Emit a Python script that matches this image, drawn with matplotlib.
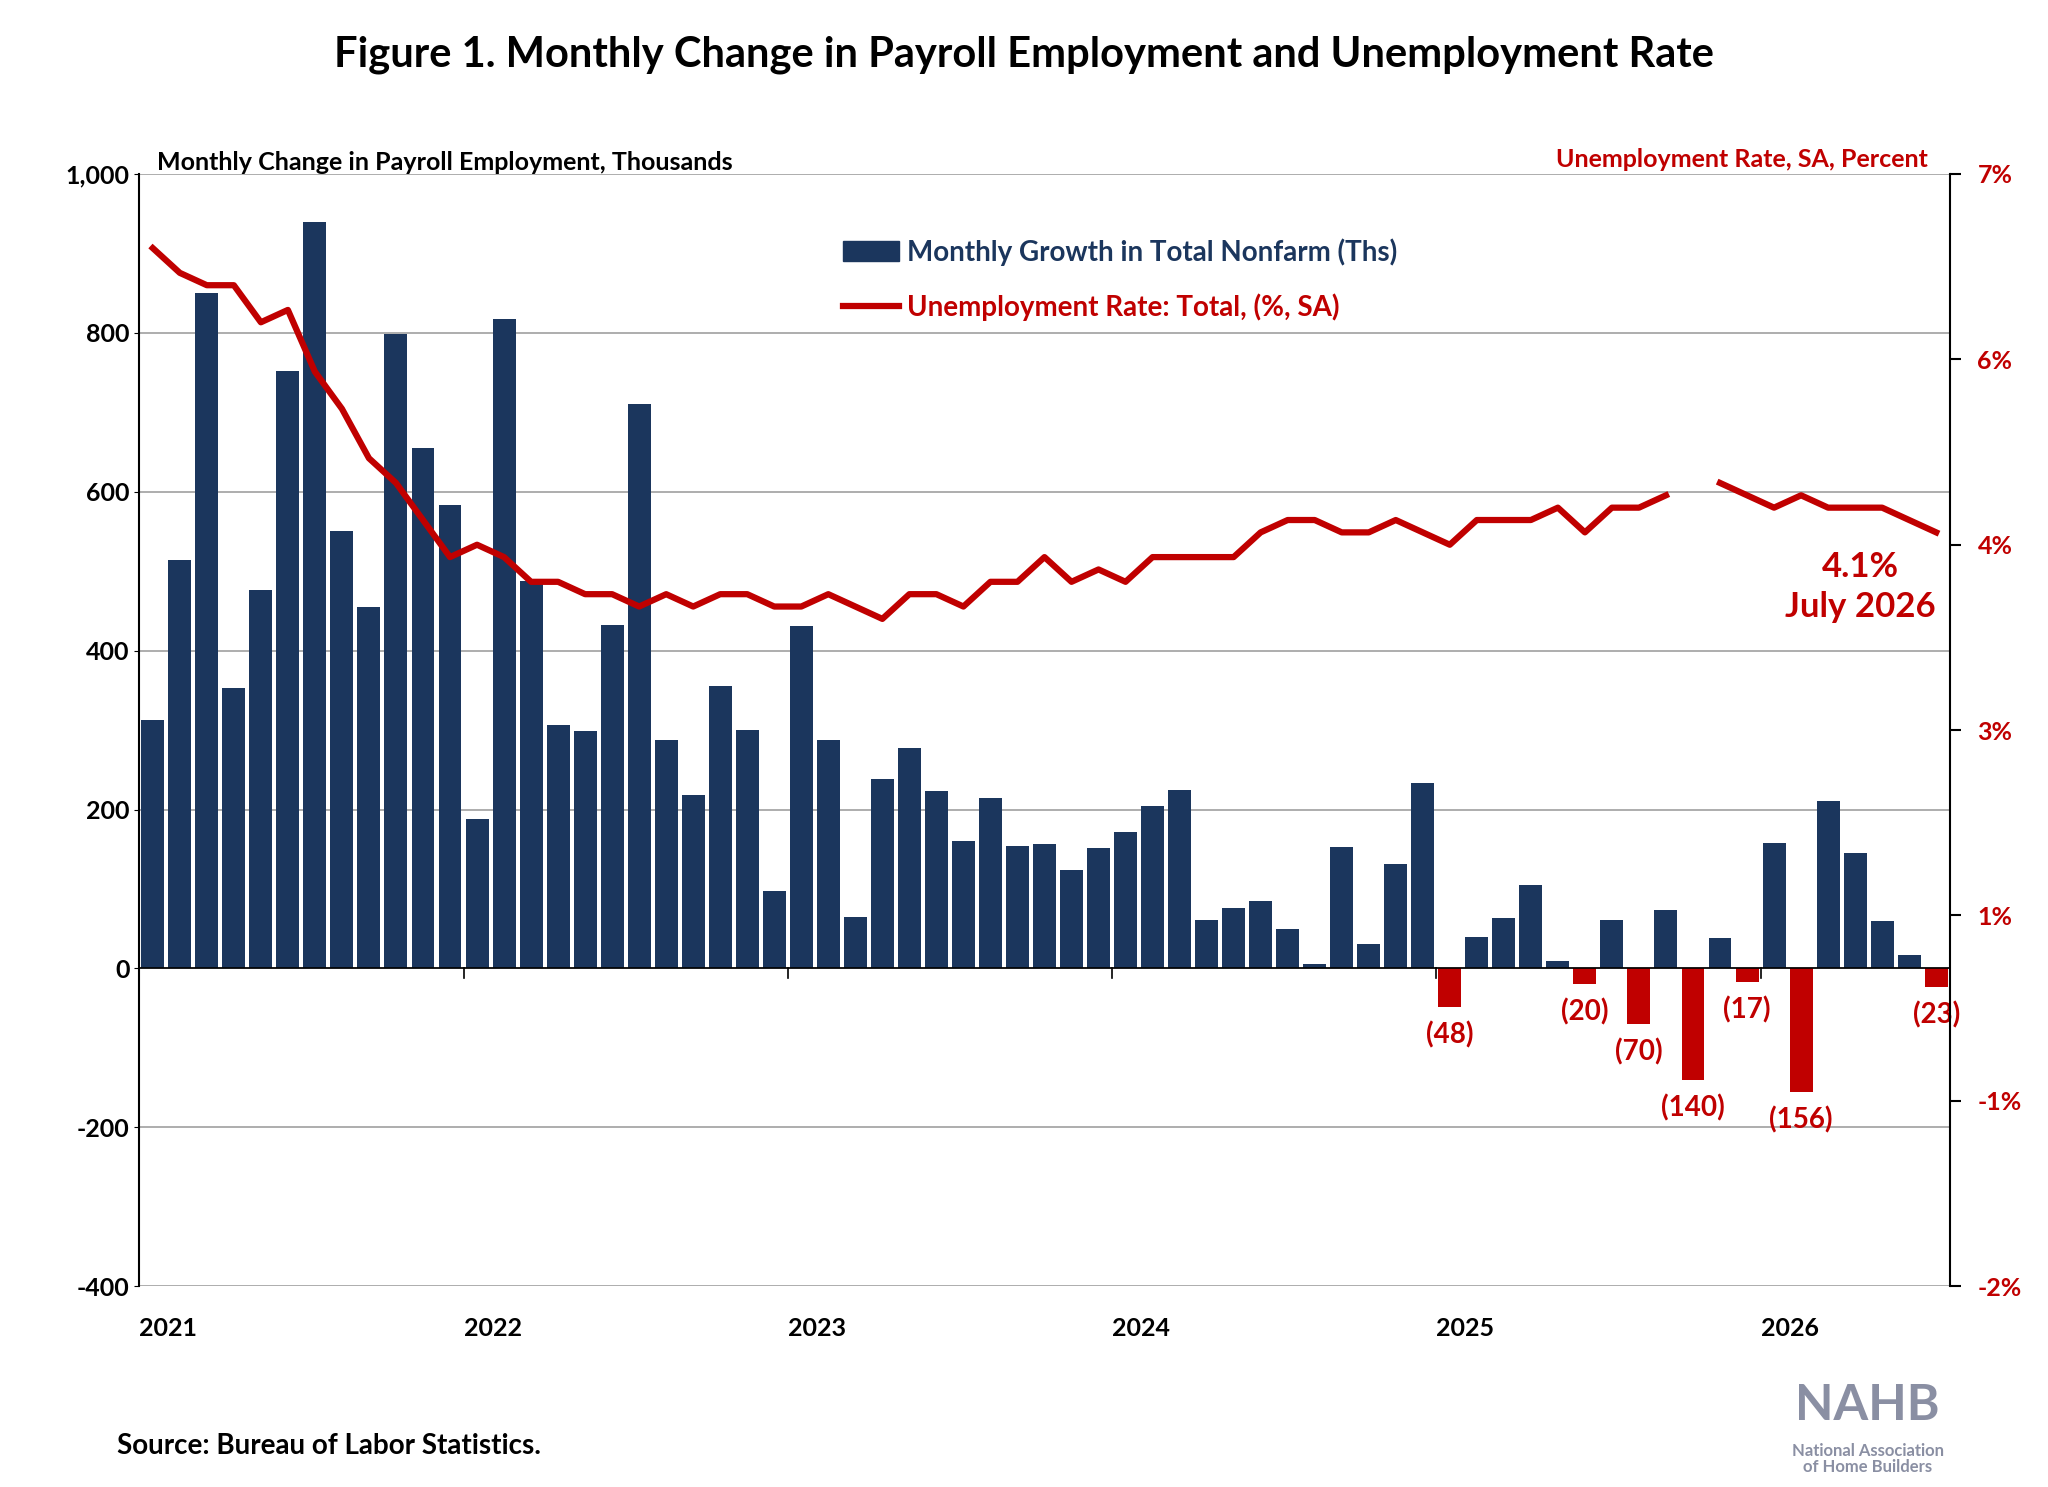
import numpy as np
import matplotlib.pyplot as plt
from matplotlib.patches import Patch
from matplotlib.lines import Line2D

plt.rcParams['font.family'] = ['Lato', 'DejaVu Sans']
plt.rcParams['font.weight'] = 'bold'

# Jan 2021 .. Jul 2026
payroll = [313, 514, 850, 353, 476, 752, 940, 550, 455, 799, 655, 583,
           188, 817, 488, 306, 299, 432, 711, 288, 218, 355, 300, 98,
           431, 288, 65, 239, 278, 223, 161, 215, 154, 157, 124, 152,
           172, 204, 225, 61, 76, 85, 50, 6, 153, 31, 131, 234,
           -48, 40, 64, 105, 10, -20, 61, -70, 74, -140, 38, -17,
           158, -156, 211, 145, 60, 17, -23]
unemp = [6.4, 6.2, 6.1, 6.1, 5.8, 5.9, 5.4, 5.1, 4.7, 4.5, 4.2, 3.9,
         4.0, 3.9, 3.7, 3.7, 3.6, 3.6, 3.5, 3.6, 3.5, 3.6, 3.6, 3.5,
         3.5, 3.6, 3.5, 3.4, 3.6, 3.6, 3.5, 3.7, 3.7, 3.9, 3.7, 3.8,
         3.7, 3.9, 3.9, 3.9, 3.9, 4.1, 4.2, 4.2, 4.1, 4.1, 4.2, 4.1,
         4.0, 4.2, 4.2, 4.2, 4.3, 4.1, 4.3, 4.3, 4.4, np.nan, 4.5, 4.4,
         4.3, 4.4, 4.3, 4.3, 4.3, 4.2, 4.1]
years = ['2021', '2022', '2023', '2024', '2025', '2026']

navy = '#1b365d'
red = '#c00000'
x = np.arange(len(payroll))
pay = np.array(payroll)

fig = plt.figure(figsize=(20.48, 14.87), dpi=100)
ax = fig.add_axes([0.068, 0.135, 0.884, 0.748])
cols = [navy if v >= 0 else red for v in pay]
ax.bar(x, pay, width=0.85, color=cols, zorder=2)
ax.set_ylim(-400, 1000)
ax.set_xlim(-0.5, len(pay) - 0.5)
ax.set_yticks(range(-400, 1001, 200))
ax.set_yticklabels(['{:,}'.format(v) for v in range(-400, 1001, 200)])
ax.yaxis.grid(True, color='#a0a0a0', lw=1.2, zorder=0)
ax.axhline(0, color='black', lw=1.2, zorder=3)
ticks = [-0.5 + 12 * i for i in range(len(years))]
ax.set_xticks(ticks)
ax.set_xticklabels(years, ha='left')
ax.tick_params(axis='x', length=0, pad=22)
ax.tick_params(axis='both', labelsize=18)
for s in ['top', 'right']:
    ax.spines[s].set_visible(False)
ax.spines['left'].set_linewidth(1.5)
ax.spines['bottom'].set_visible(False)
for t in ticks[1:]:
    ax.plot([t, t], [0, -12], color='black', lw=1.2, clip_on=False, zorder=3)

for xi, v in zip(x, pay):
    if v < 0:
        ax.text(xi, v - 18, '({})'.format(-v), ha='center', va='top',
                color=red, fontsize=20, fontweight='bold')

ax2 = ax.twinx()
ax2.plot(x, unemp, color=red, lw=4.5)
ax2.set_ylim(-2, 7)
rt = [7, 5.5, 4, 2.5, 1, -0.5, -2]
ax2.set_yticks(rt)
ax2.set_yticklabels(['7%', '6%', '4%', '3%', '1%', '-1%', '-2%'], color=red)
ax2.tick_params(axis='y', labelsize=18, length=8, width=1.5, pad=12)
for s in ['top', 'left', 'bottom']:
    ax2.spines[s].set_visible(False)
ax2.spines['right'].set_linewidth(1.5)
ax2.text(63.2, 3.95, '4.1%\nJuly 2026', ha='center', va='top', color=red,
         fontsize=25, fontweight='bold', linespacing=1.3)

handles = [Patch(color=navy), Line2D([], [], color=red, lw=4.5)]
labels = ['Monthly Growth in Total Nonfarm (Ths)', 'Unemployment Rate: Total, (%, SA)']
leg = ax2.legend(handles, labels, loc='upper left', bbox_to_anchor=(0.375, 0.965),
                 frameon=False, fontsize=20, labelspacing=1.0, handlelength=2.0,
                 handletextpad=0.3)
leg.get_texts()[0].set_color(navy)
leg.get_texts()[1].set_color(red)

fig.text(0.5, 0.955, 'Figure 1. Monthly Change in Payroll Employment and Unemployment Rate',
         ha='center', fontsize=30, fontweight='bold')
ax.text(0.01, 1.0, 'Monthly Change in Payroll Employment, Thousands', transform=ax.transAxes,
        ha='left', va='bottom', fontsize=18, fontweight='bold')
ax.text(0.988, 1.003, 'Unemployment Rate, SA, Percent', transform=ax.transAxes,
        ha='right', va='bottom', fontsize=18, fontweight='bold', color=red)
fig.text(0.057, 0.022, 'Source: Bureau of Labor Statistics.', fontsize=20, fontweight='bold')
fig.text(0.912, 0.045, 'NAHB', ha='center', fontsize=36, fontweight='bold', color='#8a8fa3')
fig.text(0.912, 0.01, 'National Association\nof Home Builders', ha='center', fontsize=12,
         color='#8a8fa3', linespacing=1.0)

fig.savefig('out.png', dpi=100)
